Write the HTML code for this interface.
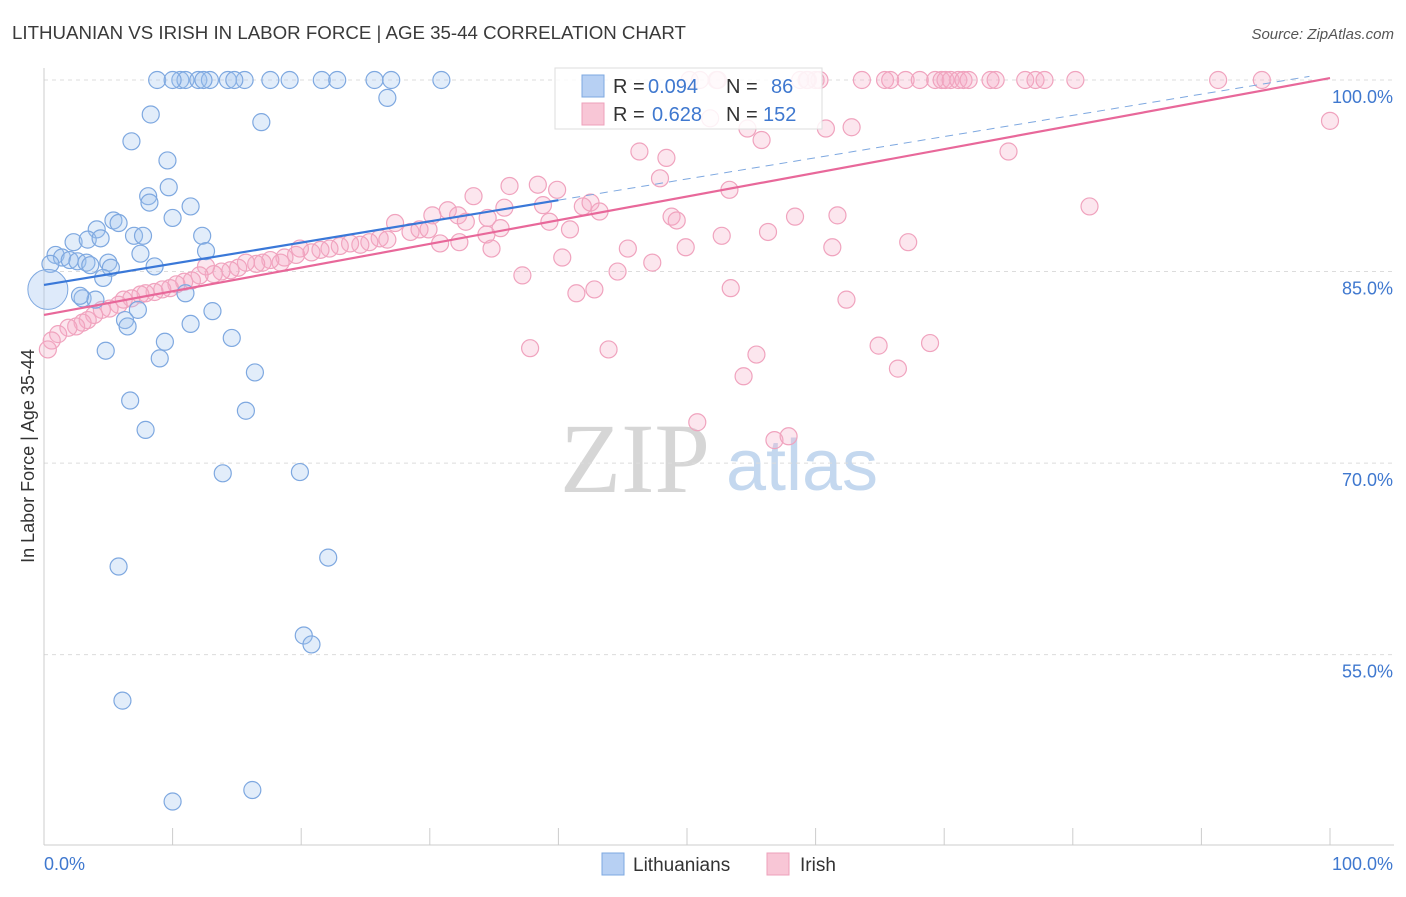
<!DOCTYPE html>
<html><head><meta charset="utf-8"><style>
body{margin:0;background:#fff;font-family:"Liberation Sans",sans-serif;}
svg text{font-family:"Liberation Sans",sans-serif;}
</style></head><body>
<svg id="chart" width="1406" height="892" viewBox="0 0 1406 892">
<text x="12" y="39" font-size="18.7" fill="#3a3a3a">LITHUANIAN VS IRISH IN LABOR FORCE | AGE 35-44 CORRELATION CHART</text>
<text x="1394" y="39" font-size="15" fill="#555" font-style="italic" text-anchor="end">Source: ZipAtlas.com</text>
<g>
<text x="635" y="492" font-size="100" fill="#d6d6d6" text-anchor="middle" style="font-family:'Liberation Serif',serif">ZIP</text>
<text x="802" y="490" font-size="72" fill="#c4d8ef" text-anchor="middle">atlas</text>
</g>
<g id="grid"></g>
<g id="axes"></g>
<g id="marks"></g>
<g id="trends"></g>
<g>
<rect x="555" y="68" width="267" height="61" fill="#fff" fill-opacity="0.85" stroke="#ddd"/>
<rect x="582" y="75" width="22" height="22" fill="#b7d0f3" stroke="#7ea8e0"/>
<rect x="582" y="103" width="22" height="22" fill="#f8c6d6" stroke="#eea0bb"/>
<text x="613" y="93" font-size="20" fill="#333">R = </text><text x="648" y="93" font-size="20" fill="#3f78cf">0.094</text>
<text x="726" y="93" font-size="20" fill="#333">N = </text><text x="771" y="93" font-size="20" fill="#3f78cf">86</text>
<text x="613" y="121" font-size="20" fill="#333">R = </text><text x="652" y="121" font-size="20" fill="#3f78cf">0.628</text>
<text x="726" y="121" font-size="20" fill="#333">N = </text><text x="763" y="121" font-size="20" fill="#3f78cf">152</text>
</g>
<g>
<rect x="602" y="853" width="22" height="22" fill="#b7d0f3" stroke="#7ea8e0"/>
<text x="633" y="871" font-size="19" fill="#333">Lithuanians</text>
<rect x="767" y="853" width="22" height="22" fill="#f8c6d6" stroke="#eea0bb"/>
<text x="800" y="871" font-size="19" fill="#333">Irish</text>
</g>
</svg>
<script>
const yTicks=[100,85,70,55];
const yTickLabels=["100.0%","85.0%","70.0%","55.0%"];
const xTicks=[0,10,20,30,40,50,60,70,80,90,100];
const blueX=[8.8,10.6,11.0,12.0,12.9,14.3,15.6,17.6,19.1,21.6,22.8,25.7,27.0,30.9,10.0,12.4,14.8,26.7,8.3,16.9,6.8,9.6,8.1,9.7,8.2,11.4,10.0,5.4,5.8,4.1,2.3,3.4,4.4,7.0,7.7,12.3,0.9,1.4,2.0,2.6,3.3,3.6,5.0,5.2,7.5,8.6,12.6,0.5,4.6,3.0,4.0,2.8,7.3,11.0,13.1,6.3,6.5,11.4,14.6,9.4,9.0,4.8,16.4,6.7,15.7,7.9,13.9,19.9,5.8,22.1,20.2,20.8,6.1,10.0,16.2];
const blueY=[100,100,100,100,100,100,100,100,100,100,100,100,100,100,100,100,100,98.6,97.3,96.7,95.2,93.7,90.9,91.6,90.4,90.1,89.2,89.0,88.8,88.3,87.3,87.5,87.6,87.8,87.8,87.8,86.3,86.1,85.9,85.8,85.7,85.5,85.7,85.3,86.4,85.4,86.6,85.6,84.5,82.9,82.8,83.1,82.0,83.3,81.9,81.2,80.7,80.9,79.8,79.5,78.2,78.8,77.1,74.9,74.1,72.6,69.2,69.3,61.9,62.6,56.5,55.8,51.4,43.5,44.4];
const pinkX=[50.2,51.0,52.3,59.4,60.0,60.3,63.6,65.4,65.8,67.0,68.1,69.3,69.8,70.1,70.5,71.1,71.5,71.9,73.6,74.0,76.3,77.1,77.8,80.2,91.3,94.7,52.4,59.3,58.8,51.8,54.7,60.8,62.8,55.8,100,46.3,48.4,75.0,47.9,53.3,36.2,38.4,33.4,39.9,41.9,42.5,81.3,35.8,38.8,43.2,30.2,31.4,32.2,32.8,34.5,35.5,39.3,40.9,48.8,49.2,58.4,61.7,27.3,28.5,29.2,29.9,56.3,52.7,67.2,30.8,32.3,34.4,34.8,26.1,26.7,25.3,24.6,23.8,23.0,22.2,21.5,20.8,19.9,19.6,18.7,18.4,17.6,17.0,16.5,15.7,15.1,14.5,13.8,13.2,12.6,12.1,11.5,10.9,10.3,9.8,9.2,8.6,7.9,7.5,6.8,6.2,5.8,5.1,4.5,3.9,3.4,3.0,2.5,1.9,1.1,0.6,0.3,45.4,49.9,61.3,40.3,47.3,37.2,44.6,41.4,42.8,53.4,62.4,37.8,43.9,55.4,54.4,64.9,68.9,66.4,50.8,56.8,57.9];
const pinkY=[100,100,100,100,100,100,100,100,100,100,100,100,100,100,100,100,100,100,100,100,100,100,100,100,100,100,100,100,100,97.0,96.2,96.2,96.3,95.3,96.8,94.4,93.9,94.4,92.3,91.4,91.7,91.8,90.9,91.4,90.1,90.4,90.1,90.0,90.2,89.7,89.4,89.8,89.4,88.9,89.2,88.4,88.9,88.3,89.3,89.0,89.3,89.4,88.8,88.1,88.3,88.3,88.1,87.8,87.3,87.2,87.3,87.9,86.8,87.6,87.5,87.3,87.1,87.2,87.0,86.8,86.7,86.5,86.8,86.3,86.1,85.7,85.9,85.7,85.6,85.7,85.3,85.1,85.0,84.8,85.4,84.7,84.3,84.2,84.0,83.7,83.6,83.4,83.3,83.2,82.9,82.8,82.4,82.1,82.0,81.6,81.2,81.0,80.7,80.6,80.1,79.6,78.9,86.8,86.9,86.9,86.1,85.7,84.7,85.0,83.3,83.6,83.7,82.8,79.0,78.9,78.5,76.8,79.2,79.4,77.4,73.2,71.8,72.1];
const blueTrend=[83.95,0.166];
const pinkTrend=[81.6,0.1855];
const X0=44,X1=1330,YTOP=80,PXPER=12.77;
const sx=v=>X0+(X1-X0)*v/100;
const sy=v=>YTOP+(100-v)*PXPER;
const NS="http://www.w3.org/2000/svg";
function mk(tag,attrs,parent){const e=document.createElementNS(NS,tag);for(const k in attrs)e.setAttribute(k,attrs[k]);parent.appendChild(e);return e;}
const grid=document.getElementById('grid'),axes=document.getElementById('axes'),marks=document.getElementById('marks'),trends=document.getElementById('trends');
yTicks.forEach((t,i)=>{
 const l=mk('line',{x1:X0,x2:1394,y1:sy(t),y2:sy(t),stroke:'#dcdcdc','stroke-dasharray':'4,4'},grid);
 
 
 const tx=mk('text',{x:1393,y:sy(t)+23,'font-size':18,fill:'#3f78cf','text-anchor':'end'},axes);
 tx.textContent=yTickLabels[i];
 
 
});
const ax=mk('line',{x1:X0,x2:1394,y1:845,y2:845,stroke:'#ccc'},axes);


const ay=mk('line',{x1:X0,x2:X0,y1:68,y2:845,stroke:'#ccc'},axes);


xTicks.forEach(t=>{const l=mk('line',{x1:sx(t),x2:sx(t),y1:828,y2:845,stroke:'#ccc'},axes);
 
 });
const xl0=mk('text',{x:44,y:870,'font-size':18,fill:'#3f78cf'},axes);xl0.textContent='0.0%';


const xl1=mk('text',{x:1393,y:870,'font-size':18,fill:'#3f78cf','text-anchor':'end'},axes);xl1.textContent='100.0%';


const yt=mk('text',{x:0,y:0,'font-size':18,fill:'#333','text-anchor':'middle',transform:'translate(34,456) rotate(-90)'},axes);yt.textContent='In Labor Force | Age 35-44';


pinkX.forEach((x,i)=>{const c=mk('circle',{cx:sx(x),cy:sy(pinkY[i]),r:8.5,fill:'rgba(246,172,198,0.3)',stroke:'#f0a3be','stroke-width':1.2},marks);
 
 });
blueX.forEach((x,i)=>{const c=mk('circle',{cx:sx(x),cy:sy(blueY[i]),r:8.5,fill:'rgba(160,196,240,0.3)',stroke:'#7ea8e0','stroke-width':1.2},marks);
 
 });
const big=mk('circle',{cx:sx(0.3),cy:sy(83.6),r:20,fill:'rgba(160,196,240,0.35)',stroke:'#7ea8e0'},marks);


const bt=mk('line',{x1:sx(0),y1:sy(blueTrend[0]),x2:sx(40),y2:sy(blueTrend[0]+blueTrend[1]*40),stroke:'#3a78d8','stroke-width':2.2},trends);


const bd=mk('line',{x1:sx(40),y1:sy(blueTrend[0]+blueTrend[1]*40),x2:sx(98.4),y2:sy(blueTrend[0]+blueTrend[1]*98.4),stroke:'#7ea8e0','stroke-width':1,'stroke-dasharray':'8,6'},trends);


const pt=mk('line',{x1:sx(0),y1:sy(pinkTrend[0]),x2:sx(100),y2:sy(pinkTrend[0]+pinkTrend[1]*100),stroke:'#e8689a','stroke-width':2.2},trends);


</script>
</body></html>
